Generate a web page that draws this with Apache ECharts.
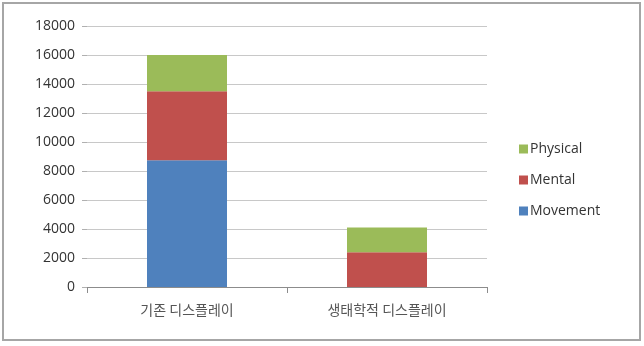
<!DOCTYPE html>
<html><head><meta charset="utf-8">
<script src="https://cdn.jsdelivr.net/npm/echarts@6/dist/echarts.min.js"></script>
<style>html,body{margin:0;padding:0;background:#fff}#c{width:644px;height:346px}</style>
</head><body><div id="c"></div>
<script>
const categories = ['기존 디스플레이', '생태학적 디스플레이'];
const movement = [8750, 0];
const mental = [4750, 2400];
const physical = [2500, 1700];
const yTicks = [0, 2000, 4000, 6000, 8000, 10000, 12000, 14000, 16000, 18000];

const chart = echarts.init(document.getElementById('c'), null, {renderer: 'canvas'});
const font = '"Noto Sans CJK KR", "Noto Sans", sans-serif';
chart.setOption({
  animation: false,
  graphic: [{type: 'rect', shape: {x: 3, y: 3, width: 637, height: 337}, style: {fill: 'none', stroke: '#a6a6a6', lineWidth: 2}}],
  grid: {left: 87, right: 157, top: 26, bottom: 59},
  legend: {
    orient: 'vertical', left: 514, top: 137, itemGap: 17,
    itemWidth: 9, itemHeight: 9, icon: 'rect',
    data: ['Physical', 'Mental', 'Movement'],
    textStyle: {fontFamily: '"Open Sans", "Noto Sans", sans-serif', fontSize: 14, color: '#333', padding: [0, 0, 0, -3]}
  },
  xAxis: {
    type: 'category', data: categories,
    axisLine: {lineStyle: {color: '#8c8c8c'}},
    axisTick: {show: true, length: 6, lineStyle: {color: '#8c8c8c'}},
    axisLabel: {fontFamily: font, fontSize: 14, color: '#555', margin: 16}
  },
  yAxis: {
    type: 'value', min: yTicks[0], max: yTicks[yTicks.length - 1], interval: 2000,
    axisLine: {show: false},
    axisTick: {show: true, length: 5, lineStyle: {color: '#b0b0b0'}},
    splitLine: {lineStyle: {color: '#c8c8c8'}},
    axisLabel: {fontFamily: '"Open Sans", "Noto Sans", sans-serif', fontSize: 14, color: '#333', margin: 12, formatter: v => String(v)}
  },
  series: [
    {name: 'Movement', type: 'bar', stack: 's', data: movement, barWidth: '40%', itemStyle: {color: '#4F81BD'}},
    {name: 'Mental', type: 'bar', stack: 's', data: mental, itemStyle: {color: '#C0504D'}},
    {name: 'Physical', type: 'bar', stack: 's', data: physical, itemStyle: {color: '#9BBB59'}}
  ]
});
</script></body></html>
